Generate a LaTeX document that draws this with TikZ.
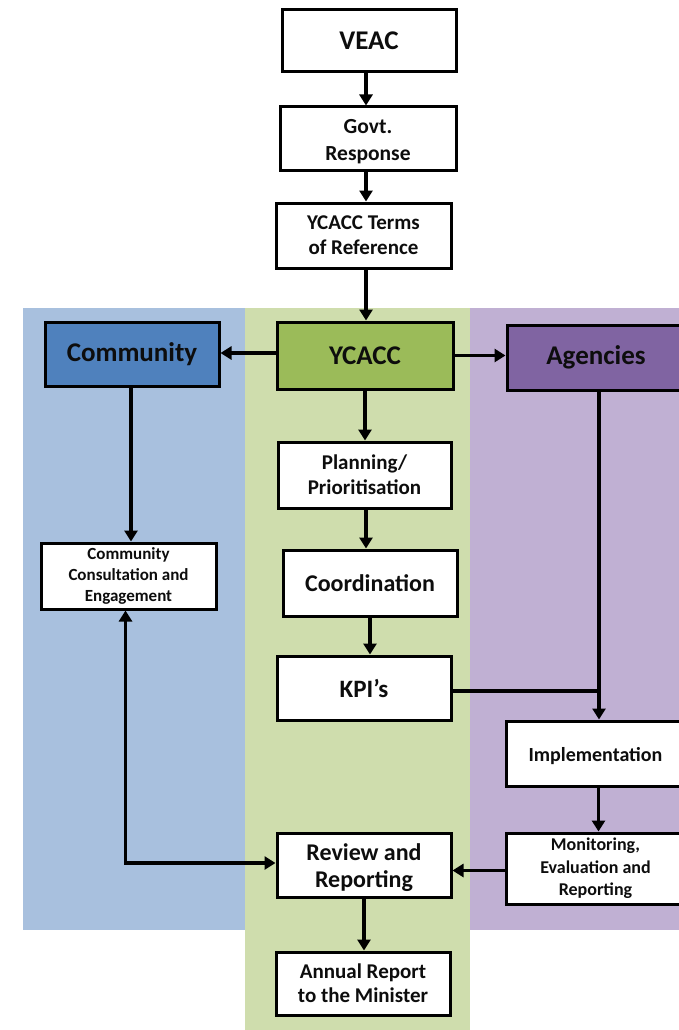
\documentclass[tikz,border=0pt]{standalone}
\usepackage{fontspec}
\setmainfont{Carlito}
\usetikzlibrary{arrows.meta,calc}
\definecolor{panelblue}{HTML}{A8C0DE}
\definecolor{panelgreen}{HTML}{CFDDAD}
\definecolor{panelpurple}{HTML}{C0B0D3}
\definecolor{boxblue}{HTML}{4F81BD}
\definecolor{boxgreen}{HTML}{9BBB59}
\definecolor{boxpurple}{HTML}{8064A2}
\newcommand{\lowertext}[2]{\raisebox{-#1}[\height][\depth]{\begin{tabular}{@{}c@{}}#2\end{tabular}}}
\begin{document}
\begin{tikzpicture}[x=1pt,y=-1pt,
 box/.style={draw=black, line width=3pt, fill=white, align=center, inner sep=0pt, text=black!95},
 fs/.style 2 args={font=\bfseries\fontsize{#1}{#2}\selectfont},
 arr/.style={line width=3.8pt, -{Triangle[length=11pt,width=13pt]}},
 darr/.style={line width=3.8pt, {Triangle[length=11pt,width=13pt]}-{Triangle[length=11pt,width=13pt]}},
 ln/.style={line width=3.8pt}]
\useasboundingbox (0,0) rectangle (679,1030);
\clip (0,0) rectangle (679,1030);
\fill[panelblue] (23,308) rectangle (245,930);
\fill[panelgreen] (245,308) rectangle (470,1030);
\fill[panelpurple] (470,308) rectangle (679,930);

\node[box, minimum width=174pt, minimum height=62pt, fs={27}{32}] (veac) at (369,41) {VEAC};
\node[box, minimum width=176pt, minimum height=63pt, fs={21.5}{27}] (govt) at (368,138.5) {\lowertext{3pt}{Govt.\\Response}};
\node[box, minimum width=175pt, minimum height=65pt, fs={21}{25}] (terms) at (363.5,235.5) {YCACC Terms\\of Reference};
\node[box, fill=boxgreen, minimum width=176pt, minimum height=67pt, fs={27}{32}] (ycacc) at (365,355.5) {YCACC};
\node[box, fill=boxblue, minimum width=174pt, minimum height=64pt, fs={27}{32}] (community) at (132,354) {Community};
\node[box, fill=boxpurple, minimum width=178pt, minimum height=65pt, fs={27}{32}] (agencies) at (596,357.5) {Agencies};
\node[box, minimum width=173pt, minimum height=66pt, fs={21}{25}] (planning) at (364.5,475) {Planning/\\Prioritisation};
\node[box, minimum width=174pt, minimum height=66pt, fs={24}{28}] (coord) at (370,583) {Coordination};
\node[box, minimum width=174pt, minimum height=64pt, fs={25}{30}] (kpi) at (364,688) {KPI’s};
\node[box, minimum width=175pt, minimum height=66pt, fs={17}{21}] (consult) at (128.5,576) {Community\\Consultation and\\Engagement};
\node[box, minimum width=179pt, minimum height=65pt, fs={20}{24}] (impl) at (595.5,753.5) {\lowertext{3pt}{Implementation}};
\node[box, minimum width=179pt, minimum height=71pt, fs={18}{22.5}] (monitor) at (595.5,868.5) {Monitoring,\\Evaluation and\\Reporting};
\node[box, minimum width=174pt, minimum height=64pt, fs={24}{27}] (review) at (364,865) {\lowertext{4pt}{Review and\\Reporting}};
\node[box, minimum width=174pt, minimum height=63pt, fs={21}{24}] (annual) at (363,983.5) {Annual Report\\to the Minister};

\draw[arr] ([xshift=-3pt]veac.south) -- ([xshift=-3pt]veac.south |- govt.north);
\draw[arr] ([xshift=-2pt]govt.south) -- ([xshift=-2pt]govt.south |- terms.north);
\draw[arr] ([xshift=2.5pt]terms.south) -- ([xshift=2.5pt]terms.south |- ycacc.north);
\draw[arr] ([yshift=2.5pt]ycacc.west) -- ([yshift=2.5pt]ycacc.west -| community.east);
\draw[arr] (ycacc.east) -- (ycacc.east -| agencies.west);
\draw[arr] (ycacc.south) -- (ycacc.south |- planning.north);
\draw[arr] ([xshift=1.5pt]planning.south) -- ([xshift=1.5pt]planning.south |- coord.north);
\draw[arr] (coord.south) -- (coord.south |- kpi.north);
\draw[arr] ([xshift=-1pt]community.south) -- ([xshift=-1pt]community.south |- consult.north);
\draw[arr] ([xshift=3pt]agencies.south) -- ([xshift=3pt]agencies.south |- impl.north);
\draw[ln] ([yshift=-3pt]kpi.east) -- ([yshift=-3pt,xshift=4.9pt]kpi.east -| agencies.south);
\draw[arr] ([xshift=3pt]impl.south) -- ([xshift=3pt]impl.south |- monitor.north);
\draw[arr] ([yshift=-2pt]monitor.west) -- ([yshift=-2pt]monitor.west -| review.east);
\draw[darr] ([xshift=-3pt]consult.south) |- ([yshift=2pt]review.west);
\draw[arr] (review.south) -- (review.south |- annual.north);
\end{tikzpicture}
\end{document}
